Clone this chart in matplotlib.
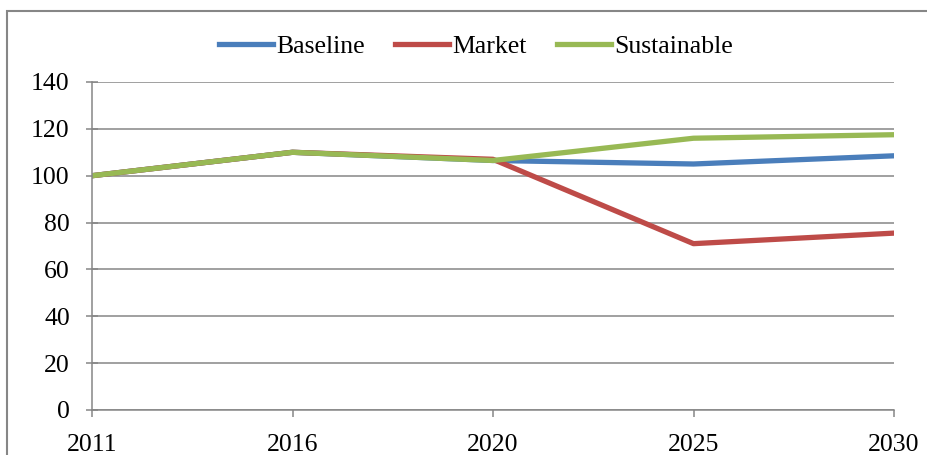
import matplotlib.pyplot as plt
from matplotlib.patches import Rectangle

# Scenario index values
years = ["2011", "2016", "2020", "2025", "2030"]
baseline = [100, 110, 106.5, 105, 108.5]
market = [100, 110, 107, 71, 75.5]
sustainable = [100, 110, 106.5, 116, 117.5]
yticks = [0, 20, 40, 60, 80, 100, 120, 140]

plt.rcParams['font.family'] = ['Liberation Serif', 'DejaVu Serif']
grey = "#868686"

fig = plt.figure(figsize=(9.27, 4.55), dpi=100)
ax = fig.add_axes([92 / 927, 1 - 410 / 455, (894 - 92) / 927, (410 - 82) / 455])

x = range(len(years))
ax.plot(x, baseline, color="#4A7EBB", lw=3.8, solid_joinstyle='round', label="Baseline")
ax.plot(x, market, color="#BE4B48", lw=3.8, solid_joinstyle='round', label="Market")
ax.plot(x, sustainable, color="#98B954", lw=3.8, solid_joinstyle='round', label="Sustainable")

ax.set_xlim(0, len(years) - 1)
ax.set_ylim(0, 140)
ax.set_xticks(list(x))
ax.set_xticklabels(years)
ax.set_yticks(yticks)

ax.grid(axis='y', color=grey, lw=1.1)
ax.set_axisbelow(True)
for side in ['top', 'right']:
    ax.spines[side].set_visible(False)
for side in ['left', 'bottom']:
    ax.spines[side].set_color(grey)
    ax.spines[side].set_linewidth(1.1)

ax.tick_params(axis='y', direction='inout', length=8, width=1.1, color=grey,
               pad=12, labelsize=18.5)
ax.tick_params(axis='x', direction='out', length=5, width=1.1, color=grey,
               pad=12.5, labelsize=18.5)

fig.legend(loc='center', bbox_to_anchor=(476 / 927, 1 - 47 / 455), ncol=3,
           frameon=False, fontsize=18.5, handlelength=2.1, handletextpad=0.15,
           columnspacing=1.15)

# chart area border
fig.patches.append(Rectangle((6.5 / 927, -0.2), 1.2, 1.2 - 10.5 / 455,
                             transform=fig.transFigure, fill=False,
                             edgecolor=grey, lw=1.5, clip_on=False))

fig.savefig("out.png", dpi=100)
